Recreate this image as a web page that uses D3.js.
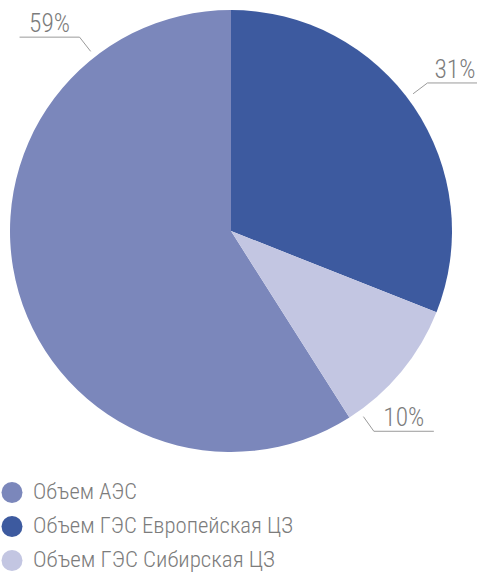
<!DOCTYPE html>
<html>
<head>
<meta charset="utf-8">
<script src="https://cdn.jsdelivr.net/npm/d3@7"></script>
<style>
  body { margin: 0; background: #fff; }
  svg text { font-family: "Roboto Condensed", "Liberation Sans Narrow", Roboto, sans-serif; font-weight: 300; fill: #7c7c7c; }
</style>
</head>
<body>
<div id="content"></div>
<script>
// data, legend order
var categories = ["Объем АЭС", "Объем ГЭС Европейская ЦЗ", "Объем ГЭС Сибирская ЦЗ"];
var values = [59, 31, 10];
var labels = ["59%", "31%", "10%"];
var colors = ["#7b87bb", "#3d5a9f", "#c3c6e2"];

// where the leader line leaves each slice (degrees clockwise from top), layout only
var labelAngles = [322, 53, 144.5];
var labelWidths = [41, 41, 41];
var legendWidths = [104, 260, 242];

var width = 477, height = 575;
var cx = 231, cy = 231, radius = 221;

var svg = d3.select("#content")
            .append("svg")
            .attr("width", width)
            .attr("height", height);

var total = d3.sum(values);
var start = 2 * Math.PI * (total - values[0]) / total;

var pie = d3.pie()
            .sort(null)
            .startAngle(start)
            .endAngle(start + 2 * Math.PI);
var arc = d3.arc().innerRadius(0).outerRadius(radius);

var g = svg.append("g")
           .attr("transform", "translate(" + cx + "," + cy + ")");

g.selectAll("path")
 .data(pie(values))
 .enter()
 .append("path")
 .attr("d", arc)
 .attr("fill", function(d, i) { return colors[i]; });

// leader lines + labels
var r1 = radius + 7, r2 = radius + 25, hlen = 60;
labels.forEach(function(t, i) {
  var a = labelAngles[i] * Math.PI / 180;
  var x1 = Math.sin(a) * r1, y1 = -Math.cos(a) * r1;
  var x2 = Math.sin(a) * r2, y2 = -Math.cos(a) * r2;
  var right = Math.sin(a) > 0;
  var x3 = right ? x2 + hlen : x2 - hlen;
  g.append("polyline")
   .attr("points", [[x1, y1], [x2, y2], [x3, y2]].map(function(p) { return p.join(","); }).join(" "))
   .attr("fill", "none")
   .attr("stroke", "#9a9a9a")
   .attr("stroke-width", 1);
  var tx = Math.min((x2 + x3) / 2, width - cx - 22);
  g.append("text")
   .attr("x", tx)
   .attr("y", y2 - 5)
   .attr("text-anchor", "middle")
   .attr("font-size", 26)
   .attr("textLength", labelWidths[i])
   .attr("lengthAdjust", "spacingAndGlyphs")
   .text(t);
});

// legend
var legend = svg.append("g")
                .selectAll("g")
                .data(categories)
                .enter()
                .append("g")
                .attr("transform", function(d, i) { return "translate(12," + (492.5 + i * 34) + ")"; });
legend.append("circle")
      .attr("r", 10.5)
      .attr("fill", function(d, i) { return colors[i]; });
legend.append("text")
      .attr("x", 21)
      .attr("y", 6.5)
      .attr("font-size", 22)
      .attr("textLength", function(d, i) { return legendWidths[i]; })
      .attr("lengthAdjust", "spacingAndGlyphs")
      .text(function(d) { return d; });
</script>
</body>
</html>
